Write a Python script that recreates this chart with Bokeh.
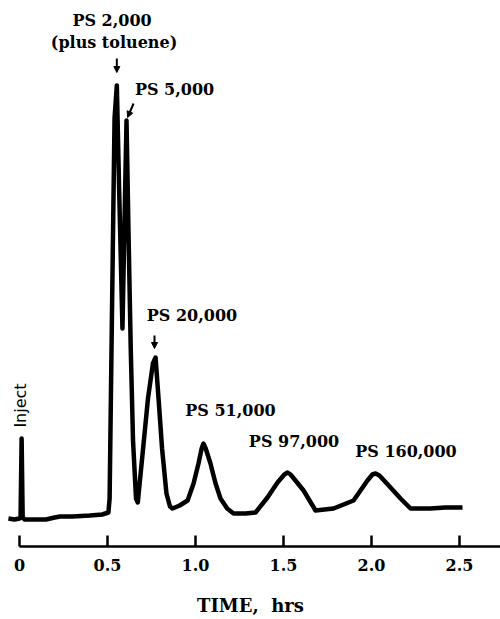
from bokeh.plotting import figure
from bokeh.models import FixedTicker, Arrow, NormalHead, ColumnDataSource, Range1d
from bokeh.core.properties import value
from bokeh.embed import file_html
from bokeh.resources import INLINE

# ---- data (time in hours, detector response in arbitrary units) ----
time_hrs = [-0.063, -0.03, 0.0, 0.006, 0.012, 0.018, 0.03, 0.08, 0.15, 0.2, 0.23, 0.3, 0.4, 0.47, 0.505,
            0.512, 0.525, 0.54, 0.553, 0.566, 0.585, 0.597, 0.608, 0.62, 0.632, 0.645, 0.662, 0.672,
            0.70, 0.73, 0.758, 0.773, 0.79, 0.81, 0.835, 0.855, 0.869,
            0.91, 0.955, 0.989, 1.017, 1.035, 1.045, 1.058, 1.085, 1.114, 1.142, 1.18, 1.216, 1.284, 1.341,
            1.409, 1.466, 1.505, 1.523, 1.54, 1.568, 1.614, 1.682, 1.784, 1.898, 1.977, 2.005, 2.023, 2.045,
            2.108, 2.165, 2.222, 2.335, 2.42, 2.517]
response = [0, -1, 0, 1, 80, 1, -1, -1, -1, 1, 2, 2, 3, 4, 6,
            20, 200, 400, 433, 330, 190, 300, 398, 280, 170, 78, 20, 16,
            66, 120, 155, 161, 120, 70, 25, 12, 10,
            13, 18, 35, 55, 70, 75, 70, 55, 35, 20, 10, 5, 5, 6,
            21, 36, 44, 46, 44, 38, 28, 8, 10, 18, 38, 44, 45, 43,
            31, 20, 10, 10, 11, 11]

peak_labels = ["PS 2,000", "(plus toluene)", "PS 5,000", "PS 20,000", "PS 51,000", "PS 97,000", "PS 160,000"]
label_t = [0.526, 0.537, 0.881, 0.980, 1.199, 1.560, 2.196]
label_r = [498, 476, 429, 203, 108, 77, 67]

inject_label = "Inject"
inject_t = 0.003
inject_r = 113

# arrows: (tail_t, tail_r, tip_t, tip_r)
arrow_tail_t = [0.553, 0.648, 0.767]
arrow_tail_r = [460, 415, 183]
arrow_tip_t = [0.553, 0.614, 0.767]
arrow_tip_r = [446, 401, 170]

tick_values = [0, 0.5, 1.0, 1.5, 2.0, 2.5]
tick_labels = ["0", "0.5", "1.0", "1.5", "2.0", "2.5"]
x_title = "TIME,\u00a0\u00a0hrs"

x_start, x_end = -0.108, 2.733
y_start, y_end = -28, 518

p = figure(width=500, height=619, output_backend="svg", toolbar_location=None,
           x_range=Range1d(x_start, x_end), y_range=Range1d(y_start, y_end),
           y_axis_location=None, min_border_left=0, min_border_right=0,
           min_border_top=0, min_border_bottom=73)
p.outline_line_color = None
p.xgrid.visible = False
p.ygrid.visible = False
p.background_fill_color = "white"
p.border_fill_color = "white"

p.line(time_hrs, response, line_width=4.5, line_color="black", line_join="round")

src = ColumnDataSource(dict(x=label_t, y=label_r, text=peak_labels))
p.text(x="x", y="y", text="text", source=src, text_font=value("DejaVu Serif"),
       text_font_style="bold", text_font_size="16px", text_align="center",
       text_baseline="middle", text_color="black")

p.text(x=[inject_t], y=[inject_r], text=[inject_label], angle=1.5708,
       text_font=value("DejaVu Sans"), text_font_size="16px",
       text_align="center", text_baseline="middle", text_color="black")

for a, b, c, d in zip(arrow_tail_t, arrow_tail_r, arrow_tip_t, arrow_tip_r):
    p.add_layout(Arrow(x_start=a, y_start=b, x_end=c, y_end=d, line_width=2, line_color="black",
                       end=NormalHead(size=6, fill_color="black", line_color="black")))

ax = p.xaxis[0]
ax.ticker = FixedTicker(ticks=tick_values)
ax.major_label_overrides = {v: s for v, s in zip(tick_values, tick_labels)}
ax.bounds = (0, x_end)
ax.axis_line_width = 2.5
ax.axis_line_color = "black"
ax.major_tick_in = 11
ax.major_tick_out = 0
ax.major_tick_line_width = 2.5
ax.major_tick_line_color = "black"
ax.minor_tick_line_color = None
ax.major_label_standoff = 12
ax.major_label_text_font = "DejaVu Serif"
ax.major_label_text_font_style = "bold"
ax.major_label_text_font_size = "16px"
ax.major_label_text_color = "black"
ax.axis_label = x_title
ax.axis_label_standoff = 21
ax.axis_label_text_font = "DejaVu Serif"
ax.axis_label_text_font_style = "bold"
ax.axis_label_text_font_size = "18px"
ax.axis_label_text_color = "black"

open("out.html", "w").write(file_html(p, INLINE))
